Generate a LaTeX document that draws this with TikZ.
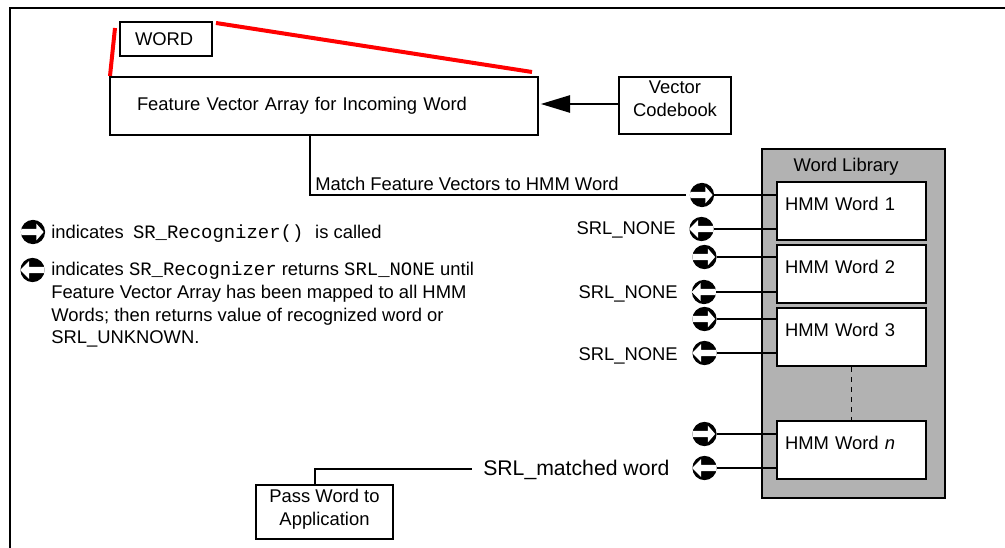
\documentclass[tikz,border=0pt]{standalone}
\usepackage{fontspec}
\setmainfont{Liberation Sans}
\setmonofont{Liberation Mono}
\usepackage{xcolor}
\usetikzlibrary{arrows.meta}

\newcommand{\srmono}[1]{{\fontsize{14.2}{16.9}\selectfont\ttfamily #1}}

\tikzset{
  every node/.style={font=\fontsize{13.8}{16.9}\selectfont, inner sep=0pt},
  rule/.style={line width=1.3pt},
  plainbox/.style={draw, rule, align=center, minimum width=#1},
  leftbox/.style={draw, rule, align=left},
  hmmbox/.style={leftbox, fill=white, inner xsep=6pt, text width=99.75pt, minimum height=43.5pt, text height=9pt, text depth=9.5pt},
  calledicon/.style={circle, fill=black, minimum size=18.2pt, path picture={
    \fill[white, shift={(path picture bounding box.center)}]
      (-10pt,2.4pt) -- (2.6pt,2.4pt) -- (2.6pt,6.2pt) -- (8pt,0) -- (2.6pt,-6.2pt) -- (2.6pt,-2.4pt) -- (-10pt,-2.4pt) -- cycle;}},
  returnicon/.style={circle, fill=black, minimum size=18.2pt, path picture={
    \fill[white, shift={(path picture bounding box.center)}]
      (10pt,2.4pt) -- (-2.6pt,2.4pt) -- (-2.6pt,6.6pt) -- (-9.2pt,0) -- (-2.6pt,-6.6pt) -- (-2.6pt,-2.4pt) -- (10pt,-2.4pt) -- cycle;}},
}

\begin{document}
\begin{tikzpicture}[x=0.75pt, y=-0.75pt]
\useasboundingbox (0,0) rectangle (1005,548);

% page frame
\draw[rule] (10,548) -- (10,8) -- (1005,8);

% red marks
\draw[red, line width=3pt] (115,28) -- (110,76);
\draw[red, line width=3pt] (216,23) -- (532,72);

% top row
\node[leftbox, inner xsep=11.25pt, text width=46.5pt, minimum height=25.5pt] (word) at (166,39) {WORD};
\node[leftbox, inner xsep=20.25pt, text width=280.5pt, minimum height=43.5pt] (feature) at (324,106) {Feature Vector Array for Incoming Word};
\node[plainbox=84pt, minimum height=43pt, text depth=10pt] (codebook) at (675,105.5) {Vector\\Codebook};
\draw[rule, shorten >=1.5pt, -{Triangle[length=22pt, width=13pt]}] (codebook.west |- 0,104) -- (feature.east |- 0,104);

% library
\node[draw, rule, fill=black!30, minimum width=137.25pt, minimum height=261.75pt] (library) at (853.5,323.5) {};
\node (libtitle) at (846,166.5) {Word Library};
\node[hmmbox] (hmm1) at (851.5,211) {HMM Word 1};
\node[hmmbox] (hmm2) at (851.5,274) {HMM Word 2};
\node[hmmbox] (hmm3) at (851.5,337) {HMM Word 3};
\node[hmmbox] (hmmn) at (851.5,450) {HMM Word \textit{n}};
\draw[rule, dash pattern=on 3.5pt off 4pt, xshift=0.5] (hmm3) -- (hmmn);

% call and return markers
\node[calledicon] (in1) at (702,195) {};
\node[returnicon] (out1) at (701.5,229) {};
\node[calledicon] (in2) at (704.5,257) {};
\node[returnicon] (out2) at (704,292) {};
\node[calledicon] (in3) at (704.5,319) {};
\node[returnicon] (out3) at (704.5,353) {};
\node[calledicon] (inn) at (704.5,434) {};
\node[returnicon] (outn) at (704.5,468) {};

\draw[rule] (in1.east) -- (in1.east -| hmm1.west);
\draw[rule] (out1.east) -- (out1.east -| hmm1.west);
\draw[rule] (in2.east) -- (in2.east -| hmm2.west);
\draw[rule] (out2.east) -- (out2.east -| hmm2.west);
\draw[rule] (in3.east) -- (in3.east -| hmm3.west);
\draw[rule] (out3.east) -- (out3.east -| hmm3.west);
\draw[rule] (inn.east) -- (inn.east -| hmmn.west);
\draw[rule] (outn.east) -- (outn.east -| hmmn.west);

% feature array to first word
\coordinate (matchend) at (686,195);
\draw[rule] (feature.south -| 310,0) -- (310,195) -- (matchend);
\node[anchor=west] (matchlabel) at (315,184) {Match Feature Vectors to HMM Word};

\node[anchor=east] (none1) at (676,230) {SRL\_NONE};
\node[anchor=east] (none2) at (678,294) {SRL\_NONE};
\node[anchor=east] (none3) at (678,356) {SRL\_NONE};

% result
\node[anchor=west, font=\fontsize{15.9}{17}\selectfont] (matched) at (483,470) {SRL\_matched word};
\node[plainbox=102.5pt, minimum height=40.5pt, text depth=7pt] (pass) at (324.5,512) {Pass Word to\\Application};
\coordinate (matchedend) at (472,469);
\draw[rule] (pass.north -| 315,0) -- (315,469) -- (matchedend);

% legend
\node[calledicon] (legendin) at (33,232) {};
\node[returnicon] (legendout) at (32.5,270) {};
\node[anchor=west] (legendone) at (51,234) {indicates\hspace{3pt} \srmono{SR\_Recognizer()}\hspace{5pt} is called};
\node[anchor=north west, align=left] (legendtwo) at (51,262) {indicates \srmono{SR\_Recognizer} returns \srmono{SRL\_NONE} until\\Feature Vector Array has been mapped to all HMM\\Words; then returns value of recognized word or\\SRL\_UNKNOWN.};
\end{tikzpicture}
\end{document}
